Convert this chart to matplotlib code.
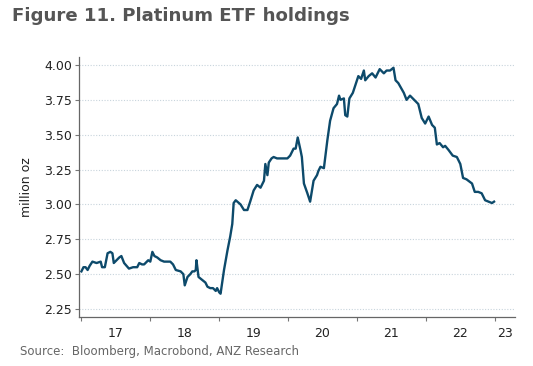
import numpy as np
import matplotlib
matplotlib.use("Agg")
import matplotlib.pyplot as plt

# Platinum ETF holdings, million oz, x as decimal year
years = [2017.00, 2017.03, 2017.06, 2017.09, 2017.12, 2017.16, 2017.22, 2017.28, 2017.30,
         2017.34, 2017.38, 2017.42, 2017.45, 2017.47, 2017.51, 2017.55, 2017.58, 2017.62,
         2017.69, 2017.75, 2017.81, 2017.84, 2017.88, 2017.91, 2017.97, 2018.00, 2018.03,
         2018.06, 2018.10, 2018.15, 2018.20, 2018.29, 2018.33, 2018.37, 2018.44, 2018.48,
         2018.50, 2018.54, 2018.58, 2018.61, 2018.64, 2018.66, 2018.67, 2018.70, 2018.75,
         2018.80, 2018.83, 2018.87, 2018.91, 2018.95, 2018.97, 2019.00, 2019.02, 2019.07,
         2019.12, 2019.14, 2019.16, 2019.19, 2019.21, 2019.24, 2019.31, 2019.36, 2019.41,
         2019.45, 2019.50, 2019.55, 2019.60, 2019.65, 2019.67, 2019.70, 2019.72, 2019.76,
         2019.79, 2019.84, 2019.91, 2019.99, 2020.03, 2020.08, 2020.11, 2020.14, 2020.18,
         2020.20, 2020.23, 2020.28, 2020.32, 2020.37, 2020.42, 2020.44, 2020.47, 2020.52,
         2020.57, 2020.61, 2020.66, 2020.71, 2020.74, 2020.76, 2020.81, 2020.83, 2020.86,
         2020.89, 2020.94, 2020.98, 2021.02, 2021.06, 2021.10, 2021.12, 2021.17, 2021.22,
         2021.27, 2021.33, 2021.39, 2021.43, 2021.48, 2021.53, 2021.56, 2021.60, 2021.68,
         2021.72, 2021.77, 2021.83, 2021.89, 2021.94, 2021.99, 2022.04, 2022.09, 2022.13,
         2022.16, 2022.20, 2022.25, 2022.28, 2022.33, 2022.39, 2022.45, 2022.50, 2022.54,
         2022.59, 2022.67, 2022.71, 2022.76, 2022.81, 2022.86, 2022.91, 2022.96, 2022.99]
holdings = [2.52, 2.55, 2.55, 2.53, 2.56, 2.59, 2.58, 2.59, 2.55,
            2.55, 2.65, 2.66, 2.65, 2.58, 2.60, 2.62, 2.63, 2.58,
            2.54, 2.55, 2.55, 2.58, 2.57, 2.57, 2.60, 2.59, 2.66,
            2.63, 2.62, 2.60, 2.59, 2.59, 2.57, 2.53, 2.52, 2.50,
            2.42, 2.48, 2.50, 2.52, 2.52, 2.53, 2.60, 2.48, 2.46,
            2.44, 2.41, 2.40, 2.40, 2.38, 2.40, 2.37, 2.36, 2.53,
            2.67, 2.72, 2.77, 2.86, 3.01, 3.03, 3.00, 2.96, 2.96,
            3.02, 3.10, 3.14, 3.12, 3.17, 3.29, 3.21, 3.30, 3.33,
            3.34, 3.33, 3.33, 3.33, 3.35, 3.40, 3.40, 3.48, 3.39,
            3.34, 3.15, 3.08, 3.02, 3.17, 3.21, 3.24, 3.27, 3.26,
            3.46, 3.60, 3.69, 3.72, 3.78, 3.75, 3.76, 3.64, 3.63,
            3.76, 3.80, 3.86, 3.92, 3.90, 3.96, 3.89, 3.92, 3.94,
            3.91, 3.97, 3.94, 3.96, 3.96, 3.98, 3.89, 3.87, 3.80,
            3.75, 3.78, 3.75, 3.72, 3.62, 3.58, 3.63, 3.57, 3.55,
            3.43, 3.44, 3.41, 3.42, 3.39, 3.35, 3.34, 3.29, 3.19,
            3.18, 3.15, 3.09, 3.09, 3.08, 3.03, 3.02, 3.01, 3.02]

year_ticks = [2017, 2018, 2019, 2020, 2021, 2022, 2023]
year_labels = ["17", "18", "19", "20", "21", "22", "23"]
y_ticks = [2.25, 2.50, 2.75, 3.00, 3.25, 3.50, 3.75, 4.00]

x_min, x_max = 2016.965, 2023.294

fig = plt.figure(figsize=(5.33, 3.66), dpi=100)
ax = fig.add_axes([79 / 533, 1 - 317 / 366, (515 - 79) / 533, (317 - 57) / 366])

ax.plot(years, holdings, color="#0d4a6b", linewidth=1.7, solid_joinstyle="round")

ax.set_xlim(x_min, x_max)
ax.set_ylim(2.193, 4.057)

# year boundaries as major ticks, labels centred in each year
ax.set_xticks(year_ticks)
ax.set_xticklabels([])
label_pos = [(y + min(y + 1, x_max)) / 2 for y in year_ticks]
ax.set_xticks(label_pos, minor=True)
ax.set_xticklabels(year_labels, minor=True)
ax.tick_params(axis="x", which="major", length=3, color="#777777", direction="out")
ax.tick_params(axis="x", which="minor", length=0, pad=7, labelsize=9, labelcolor="#222222")

ax.set_yticks(y_ticks)
ax.set_yticklabels([f"{v:.2f}" for v in y_ticks])
ax.tick_params(axis="y", length=3, color="#777777", labelsize=9, labelcolor="#222222", pad=2)

ax.grid(axis="y", linestyle=(0, (1, 1.5)), color="#c8d4dc", linewidth=0.8)
ax.set_axisbelow(True)

for side in ["top", "right"]:
    ax.spines[side].set_visible(False)
for side in ["left", "bottom"]:
    ax.spines[side].set_color("#666666")
    ax.spines[side].set_linewidth(0.9)

ax.set_ylabel("million oz", fontsize=9, color="#222222", labelpad=8)

fig.text(12 / 533, 1 - 16 / 366, "Figure 11. Platinum ETF holdings", fontsize=13.1,
         fontweight="bold", color="#555555", va="center", ha="left")
fig.text(20 / 533, 1 - 351 / 366, "Source:  Bloomberg, Macrobond, ANZ Research", fontsize=8.5,
         color="#666666", va="center", ha="left")

plt.savefig("out.png", dpi=100)
